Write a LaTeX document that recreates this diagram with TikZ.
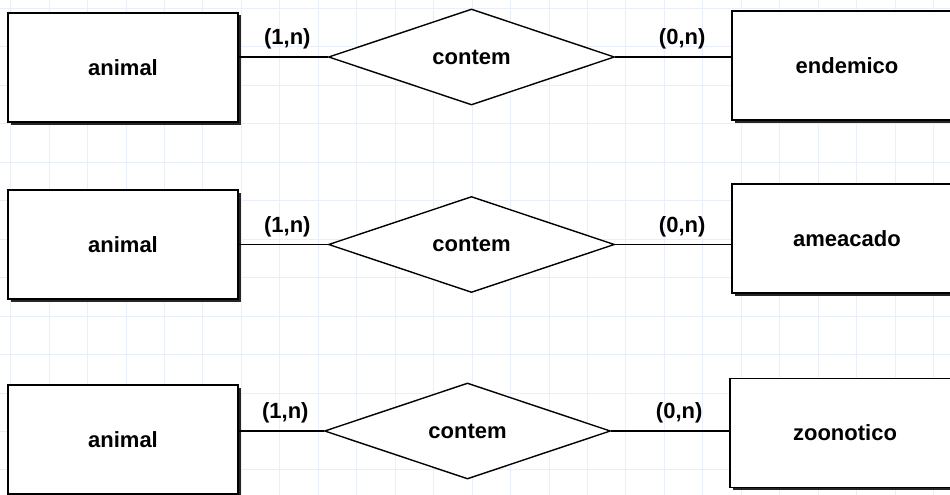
\documentclass[tikz,border=0pt]{standalone}
\usepackage{fontspec}
\setmainfont{Liberation Sans}
\usepackage{tikz}
\usetikzlibrary{positioning, shapes.geometric, shadows}
\definecolor{GridBlue}{RGB}{233,239,248}

\begin{document}
\begin{tikzpicture}[
    x=1pt, y=-1pt,
    erfont/.style={font=\fontsize{22}{26}\selectfont\bfseries},
    ent/.style={draw, fill=white, line width=1.6pt, minimum width=230pt, minimum height=109pt, erfont,
        general shadow={fill=black!85, shadow xshift=2.5pt, shadow yshift=-2.5pt}},
    rel/.style={diamond, draw, fill=white, line width=1.4pt, minimum width=286pt, minimum height=96pt, inner sep=0pt, erfont},
    link/.style={line width=1.5pt},
    card/.style={erfont, inner sep=0pt}
]
\useasboundingbox (0,0) rectangle (950,495);
\clip (0,0) rectangle (950,495);
\fill[white] (0,0) rectangle (950,495);
\draw[GridBlue, line width=1pt, step=38.45pt, shift={(10.7pt,-8.5pt)}] (-40pt,-520pt) grid (980pt,40pt);

% first row
\node[ent] (an1) at (123,67.5) {animal};
\node[rel, right=89pt of an1, yshift=10.5pt] (rel1) {contem};
\node[ent, right=116pt of rel1, yshift=-8.5pt] (en1) {endemico};
\draw[link] (an1.east |- rel1.west) -- node[card, above=6.7pt, xshift=4pt] {(1,n)} (rel1.west);
\draw[link] (rel1.east) -- node[card, above=6.7pt, xshift=9pt] {(0,n)} (rel1.east -| en1.west);

% second row
\node[ent] (an2) at (123,244.5) {animal};
\node[rel, right=89pt of an2] (rel2) {contem};
\node[ent, right=116pt of rel2, yshift=6pt] (en2) {ameacado};
\draw[link] (an2.east |- rel2.west) -- node[card, above=6.7pt, xshift=4pt] {(1,n)} (rel2.west);
\draw[link] (rel2.east) -- node[card, above=6.7pt, xshift=9pt] {(0,n)} (rel2.east -| en2.west);

% third row
\node[ent] (an3) at (123,439.5) {animal};
\node[rel, right=85pt of an3, yshift=8.5pt] (rel3) {contem};
\node[ent, right=118pt of rel3, yshift=-2pt] (en3) {zoonotico};
\draw[link] (an3.east |- rel3.west) -- node[card, above=6.7pt, xshift=4pt] {(1,n)} (rel3.west);
\draw[link] (rel3.east) -- node[card, above=6.7pt, xshift=9pt] {(0,n)} (rel3.east -| en3.west);
\end{tikzpicture}
\end{document}
